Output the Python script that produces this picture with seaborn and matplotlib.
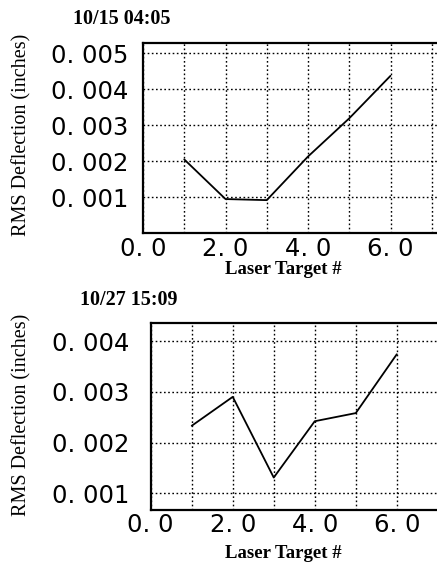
import matplotlib
matplotlib.use("Agg")
import matplotlib.pyplot as plt
import seaborn as sns
import pandas as pd

# Data
targets = [1, 2, 3, 4, 5, 6]
rms_1015 = [0.00205, 0.00095, 0.00092, 0.00213, 0.00319, 0.00437]
rms_1027 = [0.00233, 0.00290, 0.00131, 0.00242, 0.00258, 0.00374]
titles = ["10/15 04:05", "10/27 15:09"]
x_ticks = [0, 1, 2, 3, 4, 5, 6, 7]
x_ticklabels = ["0. 0", "", "2. 0", "", "4. 0", "", "6. 0", ""]
y_ticks_top = [0, 0.001, 0.002, 0.003, 0.004, 0.005]
y_ticklabels_top = ["", "0. 001", "0. 002", "0. 003", "0. 004", "0. 005"]
y_ticks_bot = [0.001, 0.002, 0.003, 0.004]
y_ticklabels_bot = ["0. 001", "0. 002", "0. 003", "0. 004"]
xlabel = "Laser Target #"
ylabel = "RMS Deflection (inches)"

sns.set_theme(style="white")
plt.rcParams["font.family"] = ["DejaVu Sans"]
plt.rcParams["text.color"] = "black"

fig = plt.figure(figsize=(4.37, 5.68), dpi=100)
W, H = 437.0, 568.0

def make_axes(left, top, right, bottom):
    return fig.add_axes([left / W, 1 - bottom / H, (right - left) / W, (bottom - top) / H])

ax1 = make_axes(143, 43, 440, 233.3)
ax2 = make_axes(150.7, 323.3, 446, 510)

configs = [
    (ax1, rms_1015, (0, 0.00528), y_ticks_top, y_ticklabels_top, titles[0], 73, 19, 269, 135, 4.5),
    (ax2, rms_1027, (0.00067, 0.00435), y_ticks_bot, y_ticklabels_bot, titles[1], 80, 300, 554, 415, 9.5),
]

serif = ["Liberation Serif", "DejaVu Serif"]

for ax, vals, ylim, yt, ytl, title, tx, ty, xly, yly, ypad in configs:
    df = pd.DataFrame({"target": targets, "rms": vals})
    sns.lineplot(data=df, x="target", y="rms", ax=ax, color="black", linewidth=1.3)
    ax.set_xlim(0, 7.2)
    ax.set_ylim(*ylim)
    ax.set_xticks(x_ticks)
    ax.set_xticklabels(x_ticklabels)
    ax.set_yticks(yt)
    ax.set_yticklabels(ytl)
    ax.grid(True, color="black", linestyle=(0, (1.2, 1.8)), linewidth=1.0)
    ax.set_axisbelow(True)
    for s in ax.spines.values():
        s.set_color("black")
        s.set_linewidth(1.6)
    ax.tick_params(axis="y", direction="out", length=6, width=1.2, colors="black",
                   labelsize=17.5, labelcolor="black", pad=ypad)
    ax.tick_params(axis="x", direction="inout", length=7, width=1.2, colors="black",
                   labelsize=17.5, labelcolor="black", pad=-1)
    ax.set_xlabel("")
    ax.set_ylabel("")
    fig.text(tx / W, 1 - ty / H, title, fontsize=14.5, fontweight="bold", family=serif,
             ha="left", va="center", color="black")
    fig.text(283 / W, 1 - xly / H, xlabel, fontsize=13.5, fontweight="bold", family=serif,
             ha="center", va="center", color="black")
    fig.text(22 / W, 1 - yly / H, ylabel, fontsize=14.5, family=serif, rotation=90,
             ha="center", va="center", color="black")

fig.savefig("out.png", dpi=100)
